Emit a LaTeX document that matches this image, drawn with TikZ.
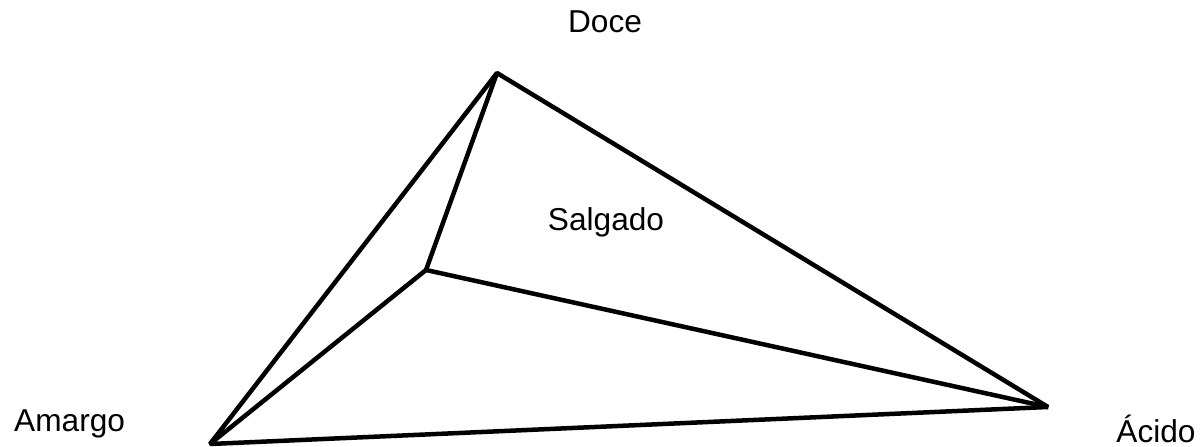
\documentclass[tikz,border=0pt]{standalone}
\usepackage{fontspec}
\setmainfont{Liberation Sans}
\tikzset{
  edge/.style={line width=3.2pt,line join=bevel},
  taste/.style={font=\fontsize{22.5}{26}\selectfont,inner sep=0pt}
}

\begin{document}
\begin{tikzpicture}
  \useasboundingbox (0,0) rectangle (30.075,11.175);
  \coordinate (doceV) at (12.425,9.35);
  \coordinate (salgadoV) at (10.65,4.425);
  \coordinate (amargoV) at (5.25,0.075);
  \coordinate (acidoV) at (26.2,1.0);
  \node[taste] (doce) at (15.125,10.64) {Doce};
  \node[taste] (salgado) at (15.15,5.62) {Salgado};
  \node[taste] (amargo) at (1.74,0.575) {Amargo};
  \node[taste] (acido) at (28.9,0.45) {Ácido};
  \draw[edge] (doceV) -- (salgadoV);
  \draw[edge] (salgadoV) -- (amargoV);
  \draw[edge] (salgadoV) -- (acidoV);
  \draw[edge] (amargoV) -- (doceV) -- (acidoV) -- cycle;
\end{tikzpicture}
\end{document}
